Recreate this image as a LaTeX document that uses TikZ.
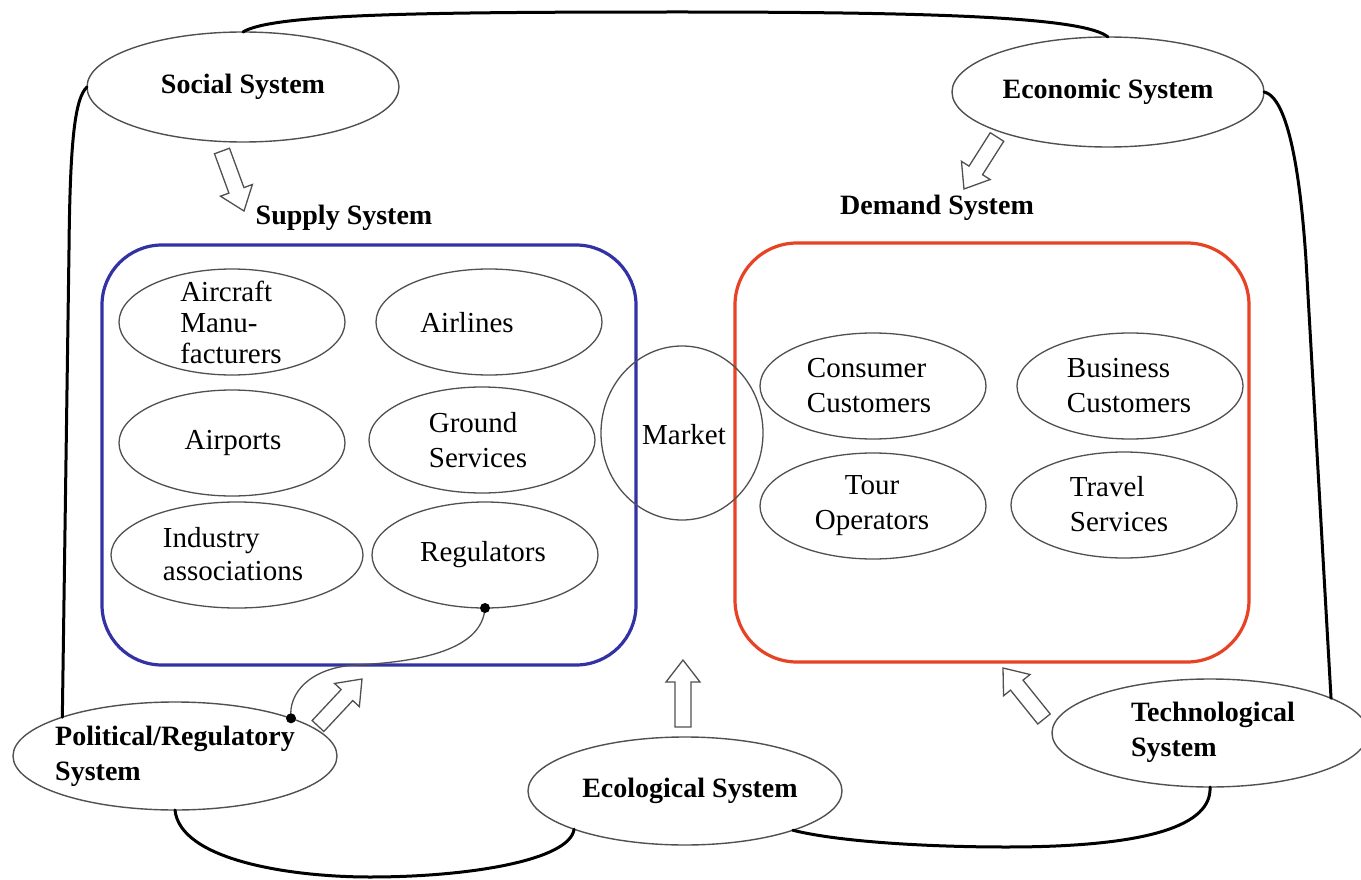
\documentclass[tikz,border=0pt]{standalone}
\usepackage{fontspec}
\setmainfont{Liberation Serif}
\usetikzlibrary{shapes.geometric,calc}
\definecolor{supblue}{RGB}{50,50,165}
\definecolor{demred}{RGB}{232,66,36}
\definecolor{elgray}{RGB}{80,80,80}
\newcommand{\hollowarrow}[2]{%
  \coordinate (bah) at ($(#2)!22pt!(#1)$);
  \draw[blockarr] ($(#1)!8pt!90:(#2)$) -- ($(bah)!8pt!90:(#2)$) -- ($(bah)!17pt!90:(#2)$) -- (#2)
    -- ($(bah)!17pt!-90:(#2)$) -- ($(bah)!8pt!-90:(#2)$) -- ($(#1)!8pt!-90:(#2)$) -- cycle;}
\tikzset{
  sysell/.style={ellipse, draw=elgray, line width=1.4pt, inner sep=0pt, outer sep=0pt},
  systxt/.style={font=\bfseries\fontsize{28}{35}\selectfont, align=left, inner sep=0pt},
  inell/.style={ellipse, draw=elgray, line width=1.3pt, inner sep=0pt, outer sep=0pt, minimum width=226, minimum height=106},
  intxt/.style={font=\fontsize{29}{35}\selectfont, align=left, inner sep=0pt},
  outerline/.style={line width=3pt, black, line cap=round},
  blockarr/.style={draw=elgray, fill=white, line width=1.3pt, line join=miter},
  sysbox/.style={rectangle, line width=3.2pt, inner sep=0pt, outer sep=0pt},
  linkline/.style={draw=elgray, line width=1.3pt}
}
\begin{document}
\begin{tikzpicture}[x=1pt, y=-1pt]
\useasboundingbox (0,0) rectangle (1361,880);
\fill[white] (0,0) rectangle (1361,880);

% system boxes
\node[sysbox, draw=supblue, rounded corners=60pt, minimum width=534, minimum height=420] (supply) at (369,455) {};
\node[sysbox, draw=demred, rounded corners=62pt, minimum width=514, minimum height=419] (demand) at (992,452.5) {};
\node[systxt] (supplyL) at (344,218) {Supply System};
\node[systxt] (demandL) at (937,208) {Demand System};

% outer systems
\node[sysell, minimum width=312, minimum height=110] (social) at (243,87) {};
\node[systxt] (socialT) at (social) {Social System};
\node[sysell, minimum width=312, minimum height=110] (economic) at (1108,92) {};
\node[systxt] (economicT) at (economic) {Economic System};
\node[sysell, minimum width=324, minimum height=108] (political) at (175,756) {};
\node[systxt] (politicalT) at (political) {Political/Regulatory\\System};
\node[sysell, minimum width=314, minimum height=108] (ecological) at (685,791) {};
\node[systxt] (ecologicalT) at (690,791) {Ecological System};
\node[sysell, minimum width=316, minimum height=108] (tech) at (1210,733) {};
\node[systxt] (techT) at (1213,732) {Technological\\System};

% supply members
\node[inell] (aircraft) at (232,322) {};
\node[intxt, font=\fontsize{29}{31}\selectfont] (aircraftT) at (231,322) {Aircraft\\Manu-\\facturers};
\node[inell] (airlines) at (489,322) {};
\node[intxt] (airlinesT) at (467,323) {Airlines};
\node[inell] (airports) at (232,443) {};
\node[intxt] (airportsT) at (233,443) {Airports};
\node[inell] (ground) at (482,440) {};
\node[intxt] (groundT) at (478,440) {Ground\\Services};
\node[inell, minimum width=252] (industry) at (237,555) {};
\node[intxt, font=\fontsize{29}{33}\selectfont] (industryT) at (233,554) {Industry\\associations};
\node[inell] (regulators) at (485,555) {};
\node[intxt] (regulatorsT) at (483,555) {Regulators};

% market
\node[sysell, line width=1.3pt, minimum width=162, minimum height=174] (market) at (682,433) {};
\node[intxt] (marketT) at (684,435) {Market};

% demand members
\node[inell] (consumer) at (873,386) {};
\node[intxt] (consumerT) at (869,386) {Consumer\\Customers};
\node[inell] (business) at (1130,386) {};
\node[intxt] (businessT) at (1129,386) {Business\\Customers};
\node[inell] (tour) at (873,506) {};
\node[intxt, align=center] (tourT) at (872,506) {Tour\\Operators};
\node[inell] (travel) at (1124,505) {};
\node[intxt] (travelT) at (1119,504) {Travel\\Services};

% outer boundary lines
\draw[outerline] (social.north) .. controls (272,14) and (420,12) .. (680,12)
  .. controls (950,12) and (1085,18) .. (economic.north);
\draw[outerline] (social.west) .. controls (75,98) and (70,140) .. (69,250) -- (political.161.6);
\draw[outerline] (economic.east) .. controls (1292,98) and (1302,200) .. (1306,260) -- (tech.16);
\draw[outerline] (political.south) .. controls (180,860) and (290,877) .. (370,877)
  .. controls (470,877) and (570,860) .. (ecological.199.5);
\draw[outerline] (ecological.340.8) .. controls (840,842) and (930,847) .. (1006,847)
  .. controls (1150,847) and (1212,825) .. (tech.south);

% regulators link
\draw[linkline] (regulators.south) .. controls (482,650) and (420,662) .. (355,665)
  .. controls (310,668) and (288,693) .. (political.18.7);
\fill[black] (regulators.south) circle (5);
\fill[black] (political.18.7) circle (5);

% hollow block arrows
\coordinate (a1t) at (222,151); \coordinate (a1h) at (244,211);
\coordinate (a2t) at (997,137); \coordinate (a2h) at (964,189);
\coordinate (a3t) at (318,726); \coordinate (a3h) at (362,679);
\coordinate (a4t) at (683,727); \coordinate (a4h) at (683,660);
\coordinate (a5t) at (1044,719); \coordinate (a5h) at (1003,668);
\hollowarrow{a1t}{a1h}
\hollowarrow{a2t}{a2h}
\hollowarrow{a3t}{a3h}
\hollowarrow{a4t}{a4h}
\hollowarrow{a5t}{a5h}
\end{tikzpicture}
\end{document}
